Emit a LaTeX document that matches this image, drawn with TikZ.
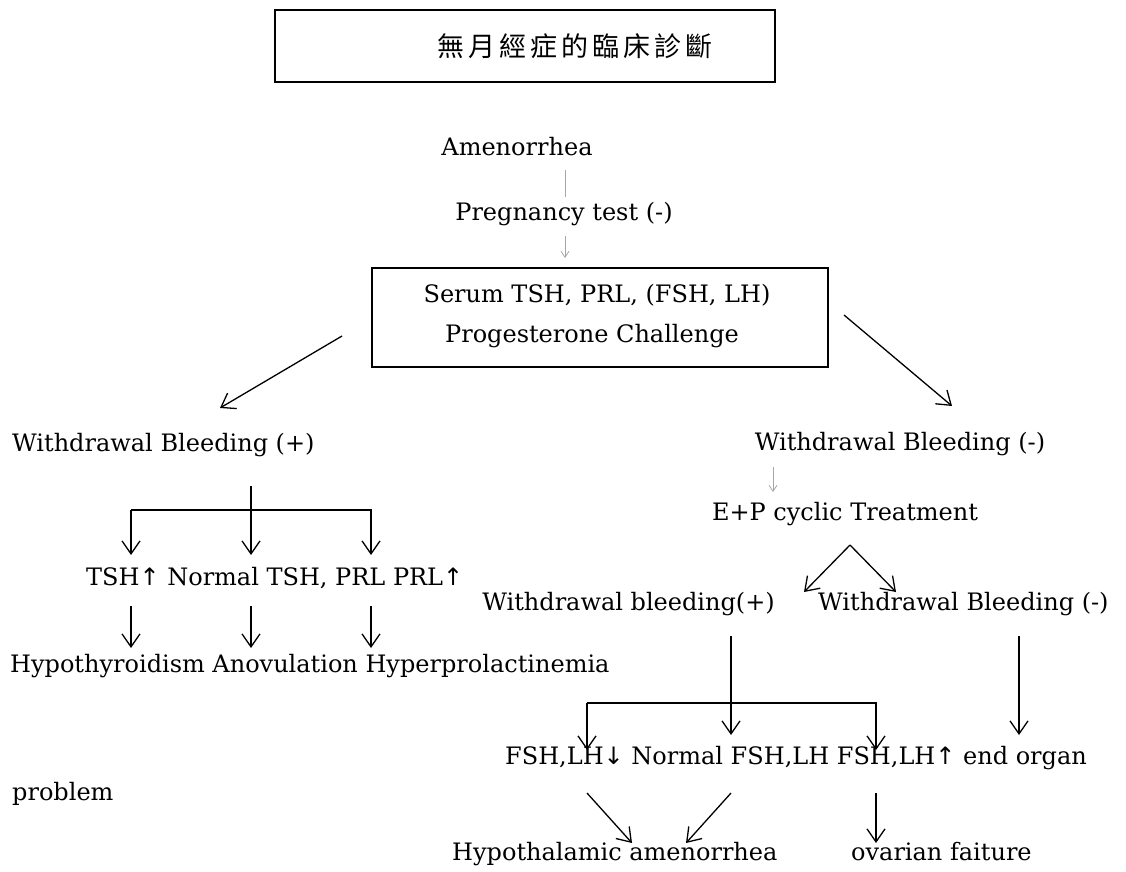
\documentclass[tikz,border=0pt]{standalone}
\usepackage{fontspec}
\setmainfont{DejaVu Serif}
\newfontfamily\cjkfont{Noto Sans CJK TC}
\newfontfamily\arrfont{DejaVu Sans}
\usetikzlibrary{arrows.meta}
\newcommand{\upa}{{\arrfont\char"2191}}
\newcommand{\dna}{{\arrfont\char"2193}}
\newcommand{\cs}{\hspace{4pt}}
\begin{document}
\begin{tikzpicture}[x=1pt,y=-1pt,
  txt/.style={inner sep=0pt, font=\fontsize{24}{28}\selectfont},
  cjktxt/.style={inner sep=0pt, font=\fontsize{27}{30}\selectfont\cjkfont},
  boxframe/.style={draw, line width=1.8pt, inner sep=0pt},
  ar/.style={line width=1.3pt, -{Straight Barb[length=13pt,width=18pt,line width=1.3pt]}},
  thinline/.style={draw=gray!70, line width=0.8pt},
  thinar/.style={thinline, -{Straight Barb[length=6pt,width=8pt]}}]
\useasboundingbox (0,0) rectangle (1126,871);
\fill[white] (0,0) rectangle (1126,871);

% title
\node[boxframe, minimum width=500pt, minimum height=72pt, anchor=north west] (titlebox) at (274,9) {};
\node[cjktxt] (titletext) at (575,46) {無\cs 月\cs 經\cs 症\cs 的\cs 臨\cs 床\cs 診\cs 斷};

% top chain
\node[txt, anchor=mid] (amen) at (517,153) {Amenorrhea};
\node[txt, anchor=mid] (preg) at (564,218) {Pregnancy test (-)};
\node[boxframe, minimum width=456pt, minimum height=99pt, anchor=north west] (serumbox) at (371,267) {};
\node[txt, anchor=mid] (serum1) at (597,300) {Serum TSH, PRL, (FSH, LH)};
\node[txt, anchor=mid] (serum2) at (592,340) {Progesterone Challenge};

\coordinate (c1) at (565,170); \coordinate (c2) at (565,197);
\coordinate (c3) at (565,236); \coordinate (c4) at (565,258);
\draw[thinline] (c1) -- (c2);
\draw[thinar] (c3) -- (c4);

\coordinate (l1) at (342,336); \coordinate (l2) at (220,408);
\coordinate (r1) at (844,315); \coordinate (r2) at (952,406);
\draw[ar] (l1) -- (l2);
\draw[ar] (r1) -- (r2);

% left branch
\node[txt, anchor=mid west] (wbp) at (12,449) {Withdrawal Bleeding (+)};
\coordinate (lv1) at (251,486); \coordinate (lv2) at (251,555);
\coordinate (lb1) at (131,510); \coordinate (lb1e) at (131,555);
\coordinate (lb2) at (371,510); \coordinate (lb2e) at (371,555);
\draw[ar] (lv1) -- (lv2);
\draw[ar] (lb1e |- lb1) -- (lb2) -- (lb2e);
\draw[ar] (lb1) -- (lb1e);

\node[txt, anchor=mid west] (tshrow) at (86,583) {TSH\upa{} Normal TSH, PRL PRL\upa};
\coordinate (ta1) at (131,606); \coordinate (ta1e) at (131,648);
\coordinate (ta2) at (251,606); \coordinate (ta2e) at (251,648);
\coordinate (ta3) at (371,606); \coordinate (ta3e) at (371,648);
\draw[ar] (ta1) -- (ta1e);
\draw[ar] (ta2) -- (ta2e);
\draw[ar] (ta3) -- (ta3e);
\node[txt, anchor=mid west] (hyporow) at (10,670) {Hypothyroidism Anovulation Hyperprolactinemia};

% right branch
\node[txt, anchor=mid] (wbm) at (900,448) {Withdrawal Bleeding (-)};
\coordinate (s1) at (773,467); \coordinate (s2) at (773,492);
\draw[thinar] (s1) -- (s2);
\node[txt, anchor=mid] (ep) at (845,518) {E+P cyclic Treatment};
\coordinate (apex) at (850,545);
\coordinate (vl) at (804,592); \coordinate (vr) at (896,592);
\draw[ar] (apex) -- (vl);
\draw[ar] (apex) -- (vr);

\node[txt, anchor=mid east] (wbp2) at (775,608) {Withdrawal bleeding(+)};
\node[txt, anchor=mid west] (wbm2) at (818,608) {Withdrawal Bleeding (-)};

\coordinate (rv1) at (731,636); \coordinate (rv1e) at (731,735);
\coordinate (rv2) at (1019,636); \coordinate (rv2e) at (1019,735);
\draw[ar] (rv1) -- (rv1e);
\draw[ar] (rv2) -- (rv2e);
\coordinate (rb1) at (587,703); \coordinate (rb1e) at (587,750);
\coordinate (rb2) at (876,703); \coordinate (rb2e) at (876,750);
\draw[ar] (rb1) -- (rb2) -- (rb2e);
\draw[ar] (rb1) -- (rb1e);

\node[txt, anchor=mid west] (fshrow) at (505,762) {FSH,LH\dna{} Normal FSH,LH FSH,LH\upa{} end organ};
\node[txt, anchor=mid west] (problem) at (12,798) {problem};

\coordinate (d1) at (587,793); \coordinate (d1e) at (632,843);
\coordinate (d2) at (731,793); \coordinate (d2e) at (686,843);
\coordinate (d3) at (876,793); \coordinate (d3e) at (876,843);
\draw[ar] (d1) -- (d1e);
\draw[ar] (d2) -- (d2e);
\draw[ar] (d3) -- (d3e);

\node[txt, anchor=mid west] (hypoth) at (452,858) {Hypothalamic amenorrhea};
\node[txt, anchor=mid west] (ovar) at (851,858) {ovarian faiture};
\end{tikzpicture}
\end{document}
